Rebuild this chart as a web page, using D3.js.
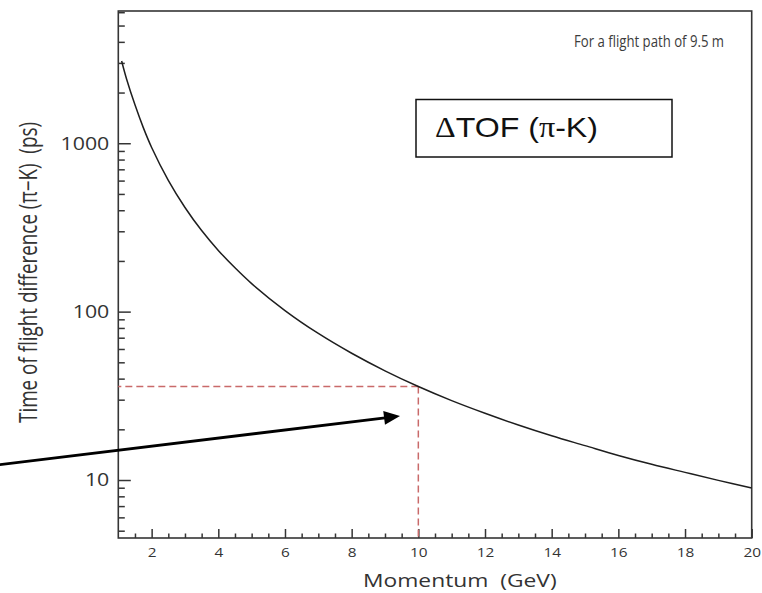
<!DOCTYPE html>
<html>
<head>
<meta charset="utf-8">
<script src="https://cdn.jsdelivr.net/npm/d3@7"></script>
<style>
  html, body { margin: 0; padding: 0; background: #fff; }
  svg { display: block; }
</style>
</head>
<body>
<svg id="chart" width="762" height="593"></svg>
<script>
// Pion–kaon time-of-flight difference vs. momentum (flight path 9.5 m)
const momentum = [1.1, 1.25, 1.5, 1.75, 2, 2.5, 3, 3.5, 4, 4.5, 5, 6, 7, 8, 9, 10,
                  11, 12, 13, 14, 15, 16, 17, 18, 19, 20];
const tofDiff  = [3080, 2400, 1690, 1238, 944, 602, 415.5, 303, 231, 182, 146.7, 101.5, 74.2, 56.6, 44.5, 35.9,
                  29.6, 24.9, 21.2, 18.3, 16.0, 14.0, 12.4, 11.1, 9.95, 8.97];

const xMajorTicks = [2, 4, 6, 8, 10, 12, 14, 16, 18, 20];
const xMinorTicks = d3.range(1.5, 20, 0.5).filter(v => v % 2 !== 0);
const yMajorTicks = [10, 100, 1000];
const yMinorTicks = [5, 6, 7, 8, 9, 20, 30, 40, 50, 60, 70, 80, 90,
                     200, 300, 400, 500, 600, 700, 800, 900, 2000, 3000, 4000, 5000, 6000];

// Reference read-off: 10 GeV/c -> ~36 ps
const markMomentum = 10;
const markTof = 35.9;

// Annotation arrow, in data units (momentum, ps)
const arrowFrom = [-2.6, 12.3];
const arrowTo = [9.45, 24];

const xDomain = [1, 20];
const yDomain = [4.525, 6100];

const svg = d3.select("#chart");
const plotLeft = 118.3, plotRight = 751.7, plotTop = 11, plotBottom = 538;

const x = d3.scaleLinear().domain(xDomain).range([plotLeft, plotRight]);
const y = d3.scaleLog().domain(yDomain).range([plotBottom, plotTop]);

const axisColor = "#353535";
const labelFont = "'Open Sans', 'DejaVu Sans', sans-serif";

// Frame
svg.append("rect")
  .attr("x", plotLeft).attr("y", plotTop)
  .attr("width", plotRight - plotLeft).attr("height", plotBottom - plotTop)
  .attr("fill", "none").attr("stroke", axisColor).attr("stroke-width", 1.6);

// Y axis (inward ticks)
const yMajor = svg.append("g").attr("transform", `translate(${plotLeft},0)`)
  .call(d3.axisLeft(y).tickValues(yMajorTicks).tickSizeInner(-12.5).tickSizeOuter(0)
    .tickPadding(9).tickFormat(d3.format("d")));
const yMinor = svg.append("g").attr("transform", `translate(${plotLeft},0)`)
  .call(d3.axisLeft(y).tickValues(yMinorTicks).tickSizeInner(-6.5).tickSizeOuter(0)
    .tickFormat(""));

// X axis (inward ticks)
const xMajor = svg.append("g").attr("transform", `translate(0,${plotBottom})`)
  .call(d3.axisBottom(x).tickValues(xMajorTicks).tickSizeInner(-9).tickSizeOuter(0)
    .tickPadding(9).tickFormat(d3.format("d")));
const xMinor = svg.append("g").attr("transform", `translate(0,${plotBottom})`)
  .call(d3.axisBottom(x).tickValues(xMinorTicks).tickSizeInner(-4.5).tickSizeOuter(0)
    .tickFormat(""));

[yMajor, yMinor, xMajor, xMinor].forEach(g => {
  g.select(".domain").remove();
  g.selectAll(".tick line").attr("stroke", axisColor).attr("stroke-width", 1.5);
});

yMajor.selectAll(".tick text")
  .attr("fill", "#333").attr("font-family", labelFont).attr("font-size", 18.5)
  .attr("textLength", d => String(d).length * 12.2)
  .attr("lengthAdjust", "spacingAndGlyphs");

xMajor.selectAll(".tick text")
  .attr("fill", "#333").attr("font-family", labelFont).attr("font-size", 13.5)
  .attr("textLength", d => String(d).length * 8.8)
  .attr("lengthAdjust", "spacingAndGlyphs");

// Axis titles
svg.append("text")
  .attr("x", 363).attr("y", 587)
  .attr("fill", "#333").attr("font-family", labelFont).attr("font-size", 19)
  .attr("textLength", 193.7).attr("lengthAdjust", "spacingAndGlyphs")
  .attr("xml:space", "preserve")
  .text("Momentum  (GeV)");

svg.append("text")
  .attr("transform", "translate(37,272.5) scale(1.3,1) rotate(-90)")
  .attr("text-anchor", "middle")
  .attr("fill", "#333").attr("font-family", labelFont).attr("font-size", 19)
  .attr("textLength", 301).attr("lengthAdjust", "spacingAndGlyphs")
  .attr("xml:space", "preserve")
  .text("Time of flight difference (π−K)  (ps)");

// Reference dashed lines at 10 GeV
const dashColor = "#c96a6a";
svg.append("line")
  .attr("x1", x(markMomentum)).attr("x2", x(xDomain[0]))
  .attr("y1", y(markTof)).attr("y2", y(markTof))
  .attr("stroke", dashColor).attr("stroke-width", 1.5).attr("stroke-dasharray", "7,4");
svg.append("line")
  .attr("x1", x(markMomentum)).attr("x2", x(markMomentum))
  .attr("y1", y(markTof)).attr("y2", y(yDomain[0]))
  .attr("stroke", dashColor).attr("stroke-width", 1.5).attr("stroke-dasharray", "7,4");

// Curve
const line = d3.line()
  .x((d, i) => x(momentum[i]))
  .y(d => y(d))
  .curve(d3.curveCatmullRom.alpha(0.5));
svg.append("path")
  .datum(tofDiff)
  .attr("d", line)
  .attr("fill", "none").attr("stroke", "#1e1e1e").attr("stroke-width", 1.5);

// Top-right note
svg.append("text")
  .attr("x", 724).attr("y", 47)
  .attr("text-anchor", "end")
  .attr("fill", "#3c3c3c").attr("font-family", labelFont).attr("font-size", 16)
  .attr("textLength", 150).attr("lengthAdjust", "spacingAndGlyphs")
  .text("For a flight path of 9.5 m");

// Legend-style label box
svg.append("rect")
  .attr("x", 416).attr("y", 99.5).attr("width", 256).attr("height", 57.5)
  .attr("fill", "#fff").attr("stroke", "#111").attr("stroke-width", 1.5);
const boxText = svg.append("text")
  .attr("x", 435).attr("y", 137)
  .attr("fill", "#111").attr("font-family", "'Liberation Sans', Arial, sans-serif")
  .attr("font-size", 28.5)
  .attr("textLength", 163).attr("lengthAdjust", "spacingAndGlyphs");
boxText.append("tspan").attr("font-family", "'Liberation Serif', serif").text("Δ");
boxText.append("tspan").text("TOF (");
boxText.append("tspan").attr("font-family", "'Liberation Serif', serif").text("π");
boxText.append("tspan").text("-K)");

// Arrow pointing at the 10 GeV read-off
const ax0 = x(arrowFrom[0]), ay0 = y(arrowFrom[1]);
const ax1 = x(arrowTo[0]), ay1 = y(arrowTo[1]);
const ang = Math.atan2(ay1 - ay0, ax1 - ax0);
const headLen = 16, headHalf = 7;
const bx = ax1 - headLen * Math.cos(ang), by = ay1 - headLen * Math.sin(ang);
svg.append("line")
  .attr("x1", ax0).attr("y1", ay0).attr("x2", bx + Math.cos(ang)).attr("y2", by + Math.sin(ang))
  .attr("stroke", "#000").attr("stroke-width", 2.8);
svg.append("path")
  .attr("d", d3.line()([
    [ax1, ay1],
    [bx - headHalf * Math.sin(ang), by + headHalf * Math.cos(ang)],
    [bx + headHalf * Math.sin(ang), by - headHalf * Math.cos(ang)]
  ]) + "Z")
  .attr("fill", "#000");
</script>
</body>
</html>
